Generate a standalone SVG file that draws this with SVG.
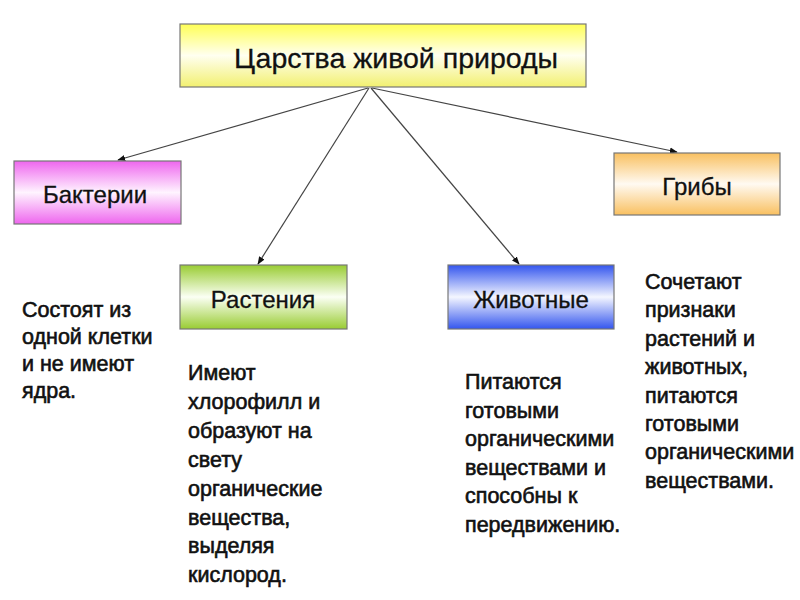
<svg xmlns="http://www.w3.org/2000/svg" width="800" height="600" viewBox="0 0 800 600">
<style>
.box{stroke:#777;stroke-width:1.2}
.lbl{font-family:"Liberation Sans",Arial,sans-serif;font-size:24px;fill:#111;stroke:#111;stroke-width:0.3;text-anchor:middle}
.ttl{font-family:"Liberation Sans",Arial,sans-serif;font-size:28.5px;fill:#111;stroke:#111;stroke-width:0.3;text-anchor:middle}
.txt{font-family:"Liberation Sans",Arial,sans-serif;font-size:21.5px;fill:#111;stroke:#111;stroke-width:0.6}
.con{stroke:#444;stroke-width:1.2;fill:none;marker-end:url(#ah)}
</style>
<defs>
<marker id="ah" viewBox="0 0 10 10" refX="9" refY="5" markerWidth="8" markerHeight="8" orient="auto" markerUnits="userSpaceOnUse"><path d="M0,1 L10,5 L0,9 z" fill="#111"/></marker>
<linearGradient id="gy" x1="0" y1="0" x2="0" y2="1"><stop offset="0" stop-color="#ffff55"/><stop offset="0.5" stop-color="#fffff0"/><stop offset="1" stop-color="#f2f070"/></linearGradient>
<linearGradient id="gm" x1="0" y1="0" x2="0" y2="1"><stop offset="0" stop-color="#ee66ee"/><stop offset="0.5" stop-color="#fff4ff"/><stop offset="1" stop-color="#ee66ee"/></linearGradient>
<linearGradient id="go" x1="0" y1="0" x2="0" y2="1"><stop offset="0" stop-color="#f9c060"/><stop offset="0.5" stop-color="#fffaf2"/><stop offset="1" stop-color="#f9c060"/></linearGradient>
<linearGradient id="gg" x1="0" y1="0" x2="0" y2="1"><stop offset="0" stop-color="#99cc33"/><stop offset="0.5" stop-color="#fbfff4"/><stop offset="1" stop-color="#99cc33"/></linearGradient>
<linearGradient id="gb" x1="0" y1="0" x2="0" y2="1"><stop offset="0" stop-color="#3355ee"/><stop offset="0.5" stop-color="#f4f6ff"/><stop offset="1" stop-color="#3355ee"/></linearGradient>
</defs>
<rect width="800" height="600" fill="#fff"/>
<g id="connectors">
<line class="con" x1="368" y1="88" x2="118" y2="160"/>
<line class="con" x1="369" y1="88" x2="258" y2="264"/>
<line class="con" x1="371" y1="88" x2="519" y2="264"/>
<line class="con" x1="372" y1="88" x2="677" y2="152"/>
</g>
<g id="root"><rect class="box" x="180" y="24" width="406" height="63" fill="url(#gy)"/><text class="ttl" x="396" y="68">Царства живой природы</text></g>
<g id="bacteria"><rect class="box" x="14" y="161" width="167" height="63" fill="url(#gm)"/><text class="lbl" x="95" y="203">Бактерии</text></g>
<g id="fungi"><rect class="box" x="614" y="153" width="166" height="62" fill="url(#go)"/><text class="lbl" x="697" y="195">Грибы</text></g>
<g id="plants"><rect class="box" x="180" y="265" width="167" height="64" fill="url(#gg)"/><text class="lbl" x="263" y="308">Растения</text></g>
<g id="animals"><rect class="box" x="448" y="265" width="166" height="64" fill="url(#gb)"/><text class="lbl" x="531" y="308">Животные</text></g>
<g id="bacteria-text"><text class="txt" x="22" y="317"><tspan x="22">Состоят из</tspan><tspan x="22" dy="27">одной клетки</tspan><tspan x="22" dy="27">и не имеют</tspan><tspan x="22" dy="27">ядра.</tspan></text></g>
<g id="plants-text"><text class="txt" x="188" y="380"><tspan x="188">Имеют</tspan><tspan x="188" dy="28.9">хлорофилл и</tspan><tspan x="188" dy="28.9">образуют на</tspan><tspan x="188" dy="28.9">свету</tspan><tspan x="188" dy="28.9">органические</tspan><tspan x="188" dy="28.9">вещества,</tspan><tspan x="188" dy="28.9">выделяя</tspan><tspan x="188" dy="28.9">кислород.</tspan></text></g>
<g id="animals-text"><text class="txt" x="465" y="389"><tspan x="465">Питаются</tspan><tspan x="465" dy="28.6">готовыми</tspan><tspan x="465" dy="28.6">органическими</tspan><tspan x="465" dy="28.6">веществами и</tspan><tspan x="465" dy="28.6">способны к</tspan><tspan x="465" dy="28.6">передвижению.</tspan></text></g>
<g id="fungi-text"><text class="txt" x="645" y="289"><tspan x="645">Сочетают</tspan><tspan x="645" dy="28.4">признаки</tspan><tspan x="645" dy="28.4">растений и</tspan><tspan x="645" dy="28.4">животных,</tspan><tspan x="645" dy="28.4">питаются</tspan><tspan x="645" dy="28.4">готовыми</tspan><tspan x="645" dy="28.4">органическими</tspan><tspan x="645" dy="28.4">веществами.</tspan></text></g>
</svg>
